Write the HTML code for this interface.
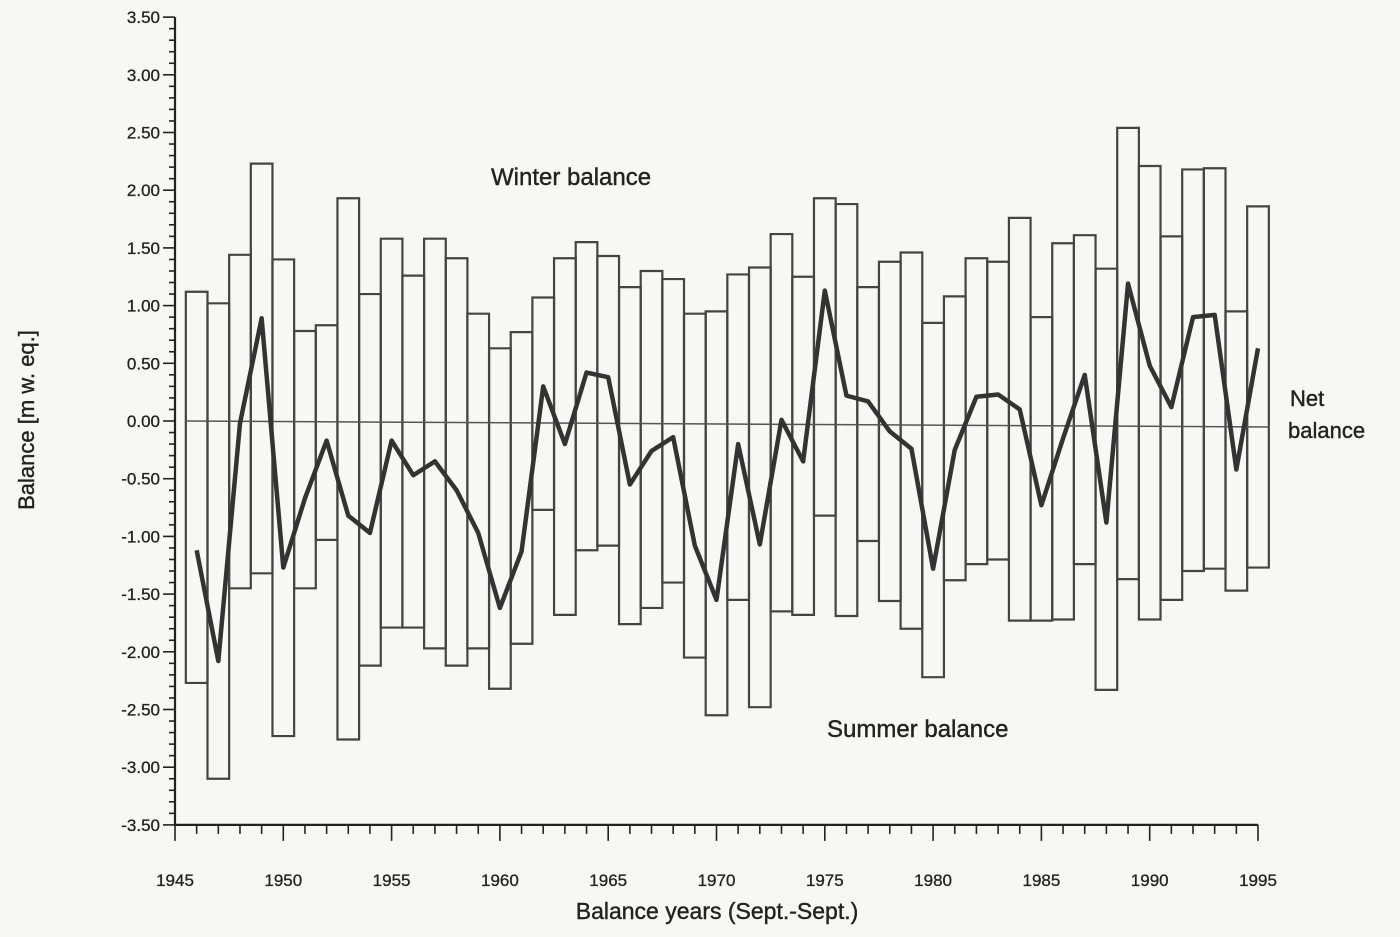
<!DOCTYPE html>
<html><head><meta charset="utf-8"><style>
html,body{margin:0;padding:0;background:#f7f8f5;}
svg{display:block;font-family:"Liberation Sans",Arial,sans-serif;}
</style></head><body>
<svg id="chart" width="1400" height="937" viewBox="0 0 1400 937" xmlns="http://www.w3.org/2000/svg">
<rect width="1400" height="937" fill="#f7f8f5"/>
<g id="bars"></g>
<g id="axes"></g>
<text x="491" y="185" font-size="24" fill="#222" stroke="#222" stroke-width="0.4">Winter balance</text>
<text x="827" y="737" font-size="24" fill="#222" stroke="#222" stroke-width="0.4">Summer balance</text>
<text x="1290" y="406" font-size="22" fill="#222" stroke="#222" stroke-width="0.4">Net</text>
<text x="1288" y="438" font-size="22" fill="#222" stroke="#222" stroke-width="0.4">balance</text>
<text x="717" y="919" font-size="23" fill="#222" stroke="#222" stroke-width="0.4" text-anchor="middle">Balance years (Sept.-Sept.)</text>
<text x="0" y="0" font-size="22" fill="#222" stroke="#222" stroke-width="0.4" text-anchor="middle" transform="translate(34,420) rotate(-90)">Balance [m w. eq.]</text>
</svg>
<script>
const years = [1946,1947,1948,1949,1950,1951,1952,1953,1954,1955,1956,1957,1958,1959,1960,1961,1962,1963,1964,1965,1966,1967,1968,1969,1970,1971,1972,1973,1974,1975,1976,1977,1978,1979,1980,1981,1982,1983,1984,1985,1986,1987,1988,1989,1990,1991,1992,1993,1994,1995];
const winter = [1.12,1.02,1.44,2.23,1.40,0.78,0.83,1.93,1.10,1.58,1.26,1.58,1.41,0.93,0.63,0.77,1.07,1.41,1.55,1.43,1.16,1.30,1.23,0.93,0.95,1.27,1.33,1.62,1.25,1.93,1.88,1.16,1.38,1.46,0.85,1.08,1.41,1.38,1.76,0.90,1.54,1.61,1.32,2.54,2.21,1.60,2.18,2.19,0.95,1.86];
const summer = [-2.27,-3.10,-1.45,-1.32,-2.73,-1.45,-1.03,-2.76,-2.12,-1.79,-1.79,-1.97,-2.12,-1.97,-2.32,-1.93,-0.77,-1.68,-1.12,-1.08,-1.76,-1.62,-1.40,-2.05,-2.55,-1.55,-2.48,-1.65,-1.68,-0.82,-1.69,-1.04,-1.56,-1.80,-2.22,-1.38,-1.24,-1.20,-1.73,-1.73,-1.72,-1.24,-2.33,-1.37,-1.72,-1.55,-1.30,-1.28,-1.47,-1.27];
const net = [-1.12,-2.08,-0.02,0.89,-1.27,-0.67,-0.17,-0.82,-0.97,-0.17,-0.47,-0.35,-0.60,-0.97,-1.62,-1.13,0.30,-0.20,0.42,0.38,-0.55,-0.26,-0.14,-1.08,-1.55,-0.20,-1.07,0.01,-0.35,1.13,0.22,0.17,-0.09,-0.24,-1.28,-0.25,0.21,0.23,0.10,-0.73,-0.15,0.40,-0.88,1.19,0.48,0.12,0.90,0.92,-0.42,0.63];
const yTicks = ["3.50","3.00","2.50","2.00","1.50","1.00","0.50","0.00","-0.50","-1.00","-1.50","-2.00","-2.50","-3.00","-3.50"];
const xTicks = [1945,1950,1955,1960,1965,1970,1975,1980,1985,1990,1995];

const NS="http://www.w3.org/2000/svg";
const X0=175, X1=1258, Y0=421, YU=115.4;
function xs(yr){return X0+(yr-1945)*(X1-X0)/50;}
function ys(v){return Y0-v*YU;}
function mk(tag,attrs,parent){const e=document.createElementNS(NS,tag);for(const k in attrs)e.setAttribute(k,attrs[k]);parent.appendChild(e);return e;}
const bars=document.getElementById('bars'), axes=document.getElementById('axes');
const bw=(X1-X0)/50;
years.forEach((yr,i)=>{
  const x=xs(yr)-bw/2, z=ys(0);
  const w=mk('path',{d:`M${x},${z} V${ys(winter[i])} H${x+bw} V${z}`,fill:'none',stroke:'#444','stroke-width':2.2},bars);
  
  
  const s=mk('path',{d:`M${x},${z} V${ys(summer[i])} H${x+bw} V${z}`,fill:'none',stroke:'#444','stroke-width':2.2},bars);
  
  
});
const zl=mk('line',{x1:185,y1:ys(0),x2:1270,y2:ys(0)+6,stroke:'#555','stroke-width':1.5},bars);


const pts=years.map((yr,i)=>xs(yr)+','+ys(net[i])).join(' ');
const nl=mk('polyline',{points:pts,fill:'none',stroke:'#333','stroke-width':4.5,'stroke-linejoin':'round'},bars);


const ya=mk('line',{x1:X0,y1:ys(3.5),x2:X0,y2:ys(-3.5),stroke:'#222','stroke-width':2.2},axes);


const xa=mk('line',{x1:X0,y1:ys(-3.5),x2:X1,y2:ys(-3.5),stroke:'#222','stroke-width':2.2},axes);


for(let k=0;k<=70;k++){
  const v=3.5-k*0.1, y=ys(v), major=(k%5===0);
  mk('line',{x1:X0-(major?12:6),y1:y,x2:X0,y2:y,stroke:'#222','stroke-width':1.6},axes);
}
yTicks.forEach(t=>{
  const tx=mk('text',{x:160,y:ys(parseFloat(t))+6,'font-size':17,'text-anchor':'end',fill:'#222',stroke:'#222','stroke-width':0.3},axes);
  tx.textContent=t;
  
  
});
for(let yr=1945;yr<=1995;yr++){
  const major=(yr%5===0);
  mk('line',{x1:xs(yr),y1:ys(-3.5),x2:xs(yr),y2:ys(-3.5)+(major?16:9),stroke:'#222','stroke-width':1.6},axes);
}
xTicks.forEach(t=>{
  const tx=mk('text',{x:xs(t),y:886,'font-size':17,'text-anchor':'middle',fill:'#222',stroke:'#222','stroke-width':0.3},axes);
  tx.textContent=t;
  
  
});
</script>
</body></html>
